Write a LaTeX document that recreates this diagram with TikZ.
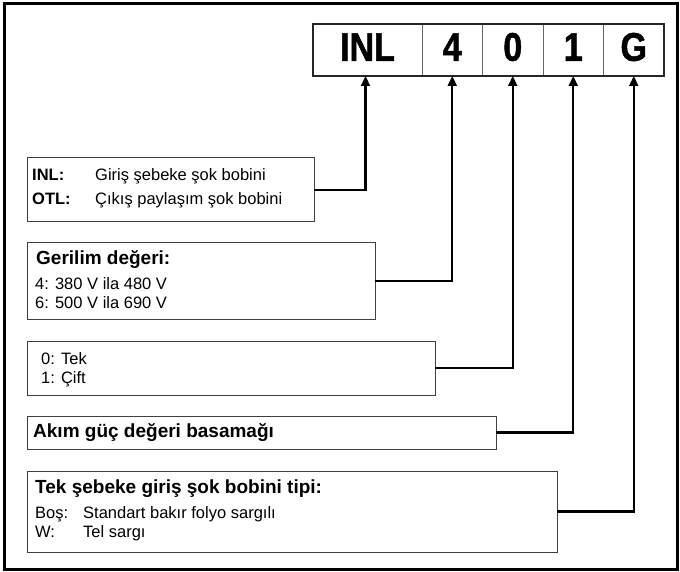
\documentclass[tikz,border=0pt]{standalone}
\usepackage{fontspec}
\setmainfont{Liberation Sans}
\newfontfamily\codefont{Liberation Sans Bold}[FakeStretch=0.85, FakeBold=1.2]
\usetikzlibrary{positioning}
\usetikzlibrary{arrows.meta}

\begin{document}
\begin{tikzpicture}[%
  >={Triangle[length=10pt,width=9pt]},
  x=1pt, y=-1pt,
  cell/.style={draw=black!60, line width=0.8pt, minimum height=52pt,
    minimum width=60.5pt, inner sep=0pt, outer sep=0pt,
    text height=28.6pt, text depth=7pt,
    font=\codefont\fontsize{40}{40}\selectfont},
  infobox/.style={draw=black!75, line width=1pt, anchor=north west,
    inner sep=0pt, outer sep=0pt},
  txt/.style={anchor=base west, inner sep=0pt,
    font=\fontsize{16.5}{20}\selectfont},
  head/.style={anchor=base west, inner sep=0pt,
    font=\bfseries\fontsize{19}{22}\selectfont},
  wire/.style={line width=2.2pt},
]

  \useasboundingbox (0,0) rectangle (680,572);
  \draw[line width=3pt] (4,4) rectangle (677,569);

  % code cells
  \node[cell, minimum width=109pt, anchor=north west] (cINL) at (313,24) {INL};
  \node[cell, right=0pt of cINL] (cVolt) {4};
  \node[cell, right=0pt of cVolt] (cPhase) {0};
  \node[cell, right=0pt of cPhase] (cRate) {1};
  \node[cell, right=0pt of cRate] (cType) {G};
  \draw[line width=2pt, draw=black!85] (cINL.north west) rectangle (cType.south east);

  % description boxes
  \node[infobox, minimum width=287pt, minimum height=64pt] (bINL) at (27,158) {};
  \node[infobox, minimum width=348pt, minimum height=76pt] (bVolt) at (27,243) {};
  \node[infobox, minimum width=408pt, minimum height=54pt] (bPhase) at (27,341) {};
  \node[infobox, minimum width=469pt, minimum height=33pt] (bRate) at (27,416) {};
  \node[infobox, minimum width=530pt, minimum height=81pt] (bType) at (27,471) {};

  \node[txt, font=\bfseries\fontsize{16.5}{20}\selectfont] (kINL) at (32,181) {INL:};
  \node[txt] (vINL) at (95,181) {Giriş şebeke şok bobini};
  \node[txt, font=\bfseries\fontsize{16.5}{20}\selectfont] (kOTL) at (32,205) {OTL:};
  \node[txt] (vOTL) at (95,205) {Çıkış paylaşım şok bobini};

  \node[head] (hVolt) at (36,264) {Gerilim değeri:};
  \node[txt] (tVoltA) at (35,289) {4: 380 V ila 480 V};
  \node[txt] (tVoltB) at (35,308) {6: 500 V ila 690 V};

  \node[txt] (tPhaseA) at (41,364) {0: Tek};
  \node[txt] (tPhaseB) at (41,383) {1: Çift};

  \node[head] (hRate) at (33,437) {Akım güç değeri basamağı};

  \node[head] (hType) at (35,493) {Tek şebeke giriş şok bobini tipi:};
  \node[txt] (kTypeA) at (35,518) {Boş:};
  \node[txt] (vTypeA) at (83,518) {Standart bakır folyo sargılı};
  \node[txt] (kTypeB) at (35,537) {W:};
  \node[txt] (vTypeB) at (83,537) {Tel sargı};

  % connectors
  \draw[wire,->] (bINL.east) -| ([xshift=-2pt]cINL.south);
  \draw[wire,->] (bVolt.east) -| (cVolt.south);
  \draw[wire,->] (bPhase.east) -| (cPhase.south);
  \draw[wire,->] (bRate.east) -| (cRate.south);
  \draw[wire,->] (bType.east) -| (cType.south);

\end{tikzpicture}
\end{document}
